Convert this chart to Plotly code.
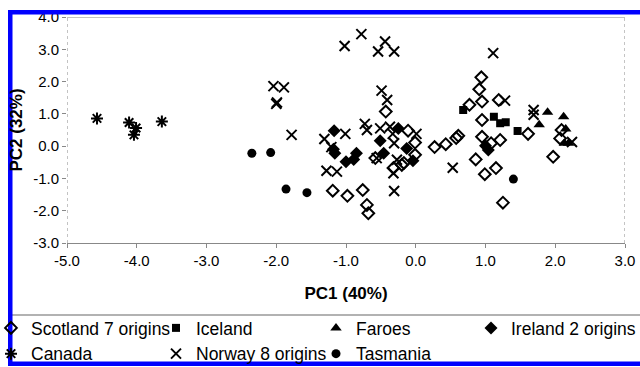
import plotly.graph_objects as go

# ---- data (PC1, PC2) ----
scotland_x = [-0.43, -0.01, 0.27, -0.58, -0.01, -0.32, -0.20, -0.17, -1.19, -0.98, -0.76, -0.70, -0.68, -0.11,
              0.94, 0.91, 0.77, 0.95, 1.19, 0.95, 0.95, 1.21, 1.08, 0.61, 0.58, 0.43, 0.86, 0.99, 1.15, 1.25,
              1.61, 2.09, 2.07, 1.97]
scotland_y = [1.07, 0.11, -0.03, -0.37, -0.27, -0.68, -0.58, -0.52, -1.38, -1.54, -1.36, -1.82, -2.08, 0.48,
              2.13, 1.76, 1.28, 1.38, 1.43, 0.81, 0.29, 0.19, 0.09, 0.32, 0.25, 0.06, -0.41, -0.87, -0.68, -1.75,
              0.38, 0.50, 0.24, -0.33]

iceland_x = [0.68, 1.12, 1.21, 1.29, 1.46]
iceland_y = [1.12, 0.91, 0.71, 0.74, 0.47]

faroes_x = [1.89, 2.12, 1.77, 2.15, 2.13, 2.19]
faroes_y = [1.05, 0.91, 0.66, 0.53, 0.09, 0.09]

ireland_x = [-1.17, -1.18, -1.16, -1.00, -0.89, -0.85, -0.51, -0.25, -0.46, -0.13, -0.04, 1.00, 1.04]
ireland_y = [0.48, -0.10, -0.22, -0.48, -0.41, -0.22, 0.17, 0.55, -0.22, -0.07, -0.45, 0.01, -0.12]

canada_x = [-4.57, -4.11, -4.01, -4.04, -3.64]
canada_y = [0.86, 0.73, 0.56, 0.35, 0.76]

norway_x = [-2.04, -1.89, -2.00, -1.99, -1.78, -1.02, -0.78, -0.44, -0.54, -0.31, -0.49, -0.41, 1.11,
            -1.31, -1.21, -1.01, -1.28, -1.13, -0.73, -0.70, -0.51, -0.37, -0.33, -0.31, 0.01, -0.56,
            -0.27, -0.32, -0.31, 0.53, 1.28, 1.69, 1.69, 2.24]
norway_y = [1.86, 1.82, 1.31, 1.35, 0.35, 3.10, 3.47, 3.24, 2.93, 2.93, 1.72, 1.43, 2.88,
            0.22, -0.03, 0.38, -0.76, -0.79, 0.69, 0.50, 0.55, 0.60, 0.38, 0.09, 0.38, -0.37,
            -0.42, -0.84, -1.39, -0.67, 1.41, 1.12, 0.97, 0.13]

tasmania_x = [-2.35, -2.08, -1.86, -1.56, 1.40]
tasmania_y = [-0.22, -0.20, -1.33, -1.44, -1.02]

x_ticks = [-5.0, -4.0, -3.0, -2.0, -1.0, 0.0, 1.0, 2.0, 3.0]
y_ticks = [-3.0, -2.0, -1.0, 0.0, 1.0, 2.0, 3.0, 4.0]

FONT = "Liberation Sans, Arial, sans-serif"
W, H = 640, 367
L, R, T, B = 67, 15, 17, 124
PW, PH = W - L - R, H - T - B


def fx(px):
    return (px - L) / PW


def fy(py):
    return (H - B - py) / PH


fig = go.Figure()

# name, x, y, symbol, size, legend column
series = [
    ("Scotland 7 origins", scotland_x, scotland_y, "diamond-open", 9, "legend"),
    ("Iceland", iceland_x, iceland_y, "square", 8, "legend2"),
    ("Faroes", faroes_x, faroes_y, "triangle-up", 10, "legend3"),
    ("Ireland 2 origins", ireland_x, ireland_y, "diamond", 10, "legend4"),
    ("Canada", canada_x, canada_y, "asterisk-open", 10, "legend"),
    ("Norway 8 origins", norway_x, norway_y, "x-thin-open", 10, "legend2"),
    ("Tasmania", tasmania_x, tasmania_y, "circle", 9, "legend3"),
]
for name, xs, ys, sym, size, leg in series:
    fig.add_trace(go.Scatter(
        x=xs, y=ys, mode="markers", name=name, legend=leg,
        marker=dict(symbol=sym, size=size, color="black",
                    line=dict(color="black", width=2 if "open" in sym else 0)),
    ))

shapes = [
    # plot frame
    dict(type="line", xref="x", yref="y", x0=-5, x1=3, y0=4, y1=4, line=dict(color="#888", width=1)),
    dict(type="line", xref="x", yref="y", x0=-5, x1=-5, y0=-3, y1=4, line=dict(color="#888", width=1, dash="dot")),
    dict(type="line", xref="x", yref="y", x0=3, x1=3, y0=-3, y1=4, line=dict(color="#888", width=1, dash="dot")),
    # legend separator
    dict(type="line", xref="paper", yref="paper", x0=fx(12), x1=fx(641), y0=fy(315), y1=fy(315),
         line=dict(color="#999", width=1.5)),
    # blue frame
    dict(type="rect", xref="paper", yref="paper", x0=fx(8), x1=fx(641), y0=fy(14.5), y1=fy(10),
         fillcolor="#0000fe", line=dict(width=0), layer="above"),
    dict(type="rect", xref="paper", yref="paper", x0=fx(8), x1=fx(12.5), y0=fy(366), y1=fy(10),
         fillcolor="#0000fe", line=dict(width=0), layer="above"),
    dict(type="rect", xref="paper", yref="paper", x0=fx(8), x1=fx(641), y0=fy(366), y1=fy(361.5),
         fillcolor="#0000fe", line=dict(width=0), layer="above"),
]


def leg(px_left):
    return dict(orientation="v", x=fx(px_left), xanchor="left", y=fy(310), yanchor="top",
                bgcolor="rgba(0,0,0,0)", borderwidth=0, itemwidth=30, tracegroupgap=0,
                font=dict(family=FONT, size=17.5, color="black"))


fig.update_layout(
    width=W, height=H, autosize=False,
    margin=dict(l=L, r=R, t=T, b=B, pad=0, autoexpand=False),
    paper_bgcolor="white", plot_bgcolor="white",
    font=dict(family=FONT, color="black"),
    showlegend=True,
    legend=leg(-9), legend2=leg(156), legend3=leg(316), legend4=leg(471),
    xaxis=dict(range=[-5, 3], tickvals=x_ticks, ticktext=[f"{v:.1f}" for v in x_ticks],
               showgrid=False, zeroline=False, showline=True, linecolor="#888", linewidth=1,
               ticks="outside", ticklen=4, tickcolor="#888",
               tickfont=dict(family=FONT, size=15, color="black"),
               title=dict(text="<b>PC1 (40%)</b>", font=dict(family=FONT, size=17, color="black"), standoff=19)),
    yaxis=dict(range=[-3, 4], tickvals=y_ticks, ticktext=[f"{v:.1f}" for v in y_ticks],
               showgrid=False, zeroline=False, showline=False,
               ticks="outside", ticklen=4, tickcolor="#888",
               tickfont=dict(family=FONT, size=15, color="black"),
               title=dict(text="<b>PC2 (32%)</b>", font=dict(family=FONT, size=17, color="black"), standoff=6)),
    shapes=shapes,
)

fig.write_html("out.html")
